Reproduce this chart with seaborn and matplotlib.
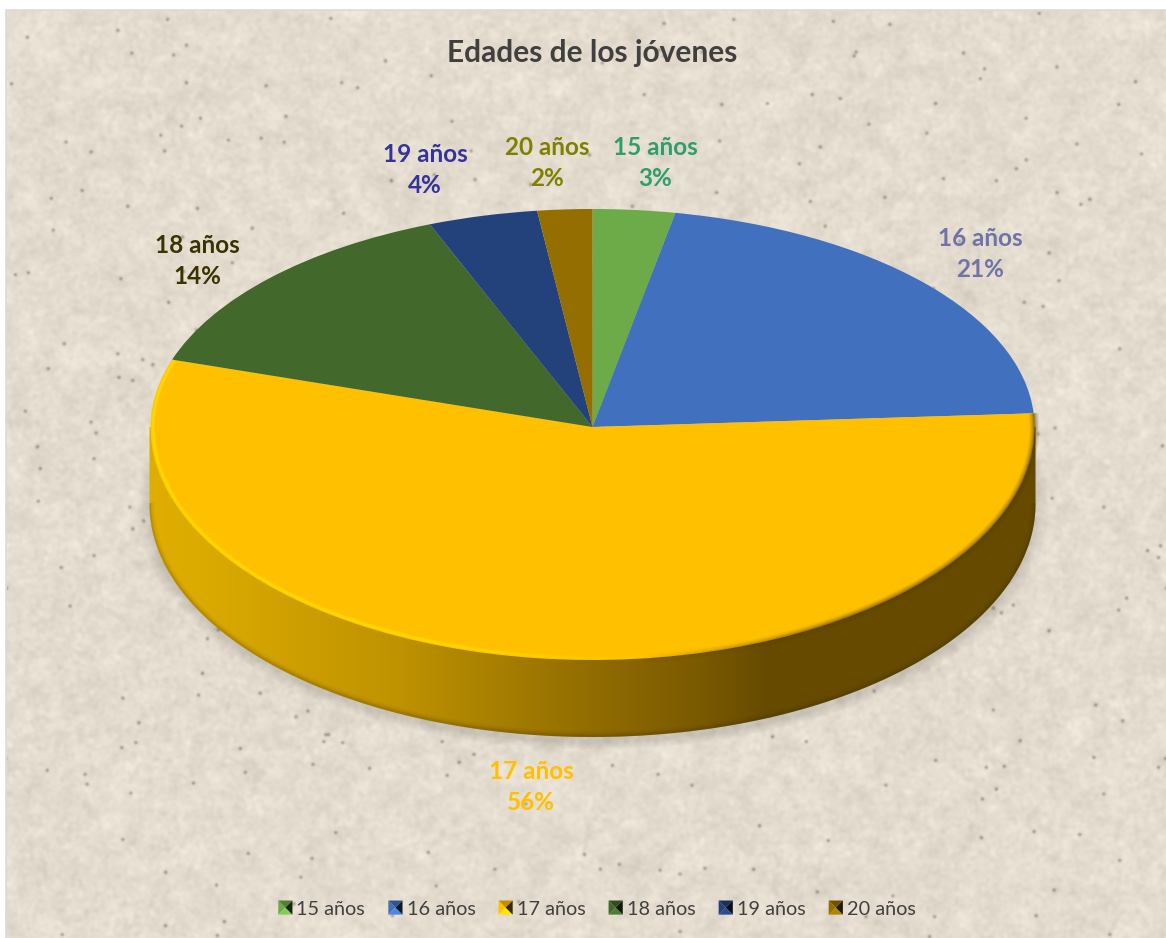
import numpy as np
import matplotlib
matplotlib.use("Agg")
import matplotlib.pyplot as plt
from matplotlib.collections import LineCollection
from matplotlib.legend_handler import HandlerBase
from matplotlib.patches import Patch, Polygon
import matplotlib.colors as mcolors
import seaborn as sns

# ---- chart data -------------------------------------------------------
ages = ["15 años", "16 años", "17 años", "18 años", "19 años", "20 años"]
shares = [3, 21, 56, 14, 4, 2]

slice_hex = ["#6CAB47", "#4170BF", "#FFC000", "#43682B", "#23417A", "#946F00"]
label_hex = ["#2F9E6C", "#6F73A8", "#FFC000", "#3A3300", "#33339A", "#808000"]
label_spots = [(655, 163), (980, 254), (531, 787), (197, 261), (425, 170), (547, 163)]

title_text = "Edades de los jóvenes"

# ---- geometry of the tilted disc, in figure pixels ----------------------
W, H = 1166, 938
CX, CY = 592.5, 427
RX, RY_UP, RY_DOWN = 442, 218, 233
DEPTH = 77

sns.set_theme(style="white")
plt.rcParams["font.family"] = ["Lato", "DejaVu Sans"]
palette = sns.color_palette(slice_hex)

fig = plt.figure(figsize=(W / 100, H / 100), dpi=100, facecolor="white")


def smooth(a, sigma):
    """Gaussian smoothing in the frequency domain."""
    fy = np.fft.fftfreq(a.shape[0])[:, None]
    fx = np.fft.rfftfreq(a.shape[1])[None, :]
    kernel = np.exp(-2 * (np.pi * sigma) ** 2 * (fx ** 2 + fy ** 2))
    return np.fft.irfft2(np.fft.rfft2(a) * kernel, s=a.shape)


# ---- paper backdrop -----------------------------------------------------
ax_bg = fig.add_axes([0, 0, 1, 1], zorder=0)
ax_bg.set_xlim(0, W)
ax_bg.set_ylim(H, 0)
ax_bg.set_axis_off()

rng = np.random.default_rng(11)
grain = smooth(rng.normal(size=(H, W)), 1.8)
grain /= grain.std()
mottling = smooth(rng.normal(size=(H, W)), 6)
mottling /= mottling.std()
flecks = smooth((rng.random((H, W)) > 0.9997).astype(float), 1.3)
flecks /= flecks.max()
shade = 3.0 * grain + 2.5 * mottling - 70 * flecks
paper = np.clip(np.array([228, 220, 207])[None, None, :] + shade[:, :, None], 0, 255) / 255
ax_bg.imshow(paper, extent=(6, W, H, 10), aspect="auto", interpolation="bilinear", zorder=0)
ax_bg.set_xlim(0, W)
ax_bg.set_ylim(H, 0)
ax_bg.plot([6, 6, W], [H, 10, 10], color="#DADADA", lw=1.2, zorder=1)

# soft contact shadow under the disc
yy, xx = np.mgrid[0:H, 0:W]
dist = np.hypot((xx - CX) / (RX + 6), (yy - (CY + DEPTH + 2)) / (RY_DOWN + 6))
shadow = np.clip((1.02 - dist) / 0.035, 0, 1) * 0.12
shadow_rgba = np.zeros((H, W, 4))
shadow_rgba[..., 3] = shadow
ax_bg.imshow(shadow_rgba, extent=(0, W, H, 0), aspect="auto", zorder=2)

# ---- side wall with its left-to-right lighting --------------------------
arc = np.linspace(-np.pi / 2, np.pi / 2, 500)
wall_x = CX + (RX + 1) * np.sin(arc)
wall_y = CY + DEPTH + RY_DOWN * np.cos(arc)
wall_poly = np.column_stack([wall_x, wall_y])
wall_poly = np.vstack([[CX - RX - 1, CY], wall_poly, [CX + RX + 1, CY]])

stops_x = [148, 200, 400, 600, 700, 770, 1040]
stops_rgb = np.array([[224, 174, 0], [220, 171, 0], [190, 146, 0], [143, 107, 0],
                      [122, 90, 0], [101, 74, 0], [101, 74, 0]], dtype=float)
columns = np.arange(W)
ramp = np.column_stack([np.interp(columns, stops_x, stops_rgb[:, i]) for i in range(3)]) / 255
wall_img = ax_bg.imshow(ramp[None, :, :], extent=(0, W, H, 0), aspect="auto", zorder=3)
wall_patch = Polygon(wall_poly, closed=True, transform=ax_bg.transData, fc="none", ec="none")
ax_bg.add_patch(wall_patch)
wall_img.set_clip_path(wall_patch)

# darkened lower lip of the wall
lip = np.column_stack([wall_x, wall_y - 1])
for lw, alpha in [(7, 0.05), (4, 0.08), (2, 0.12)]:
    line, = ax_bg.plot(lip[:, 0], lip[:, 1], color="#3A2A00", lw=lw, alpha=alpha, zorder=4,
                       solid_capstyle="butt")
    line.set_clip_path(wall_patch)


# ---- top face: a real pie on a squashed, tilted y scale ------------------
def squash(y):
    y = np.asarray(y, dtype=float)
    return np.where(y > 0, y * RY_UP / RX, y * RY_DOWN / RX)


def unsquash(v):
    v = np.asarray(v, dtype=float)
    return np.where(v > 0, v * RX / RY_UP, v * RX / RY_DOWN)


ax = fig.add_axes([0, 0, 1, 1], zorder=1)
ax.patch.set_alpha(0)
wedges, _ = ax.pie(shares, colors=palette, startangle=90, counterclock=False,
                   radius=RX, center=(CX, 0), wedgeprops=dict(linewidth=0))
ax.set_aspect("auto")
ax.set_yscale("function", functions=(squash, unsquash))
ax.set_xlim(0, W)
ax.set_ylim(float(unsquash(CY - H)), float(unsquash(CY)))
ax.set_axis_off()

# ---- rim lighting along the big slice -----------------------------------
cum = np.cumsum(shares) / np.sum(shares) * 2 * np.pi
rim_start, rim_end = cum[1], cum[2]


def rim_points(theta, inset):
    ry = np.where(np.cos(theta) > 0, RY_UP, RY_DOWN)
    return (CX + (RX - inset) * np.sin(theta), CY - (ry - inset) * np.cos(theta))


def rim_strokes(theta, inset, color, widths, alphas, weight):
    px, py = rim_points(theta, inset)
    pts = np.column_stack([px, py]).reshape(-1, 1, 2)
    segs = np.concatenate([pts[:-1], pts[1:]], axis=1)
    w = weight(0.5 * (px[:-1] + px[1:]))
    rgb = mcolors.to_rgb(color)
    for lw, alpha in zip(widths, alphas):
        rgba = np.column_stack([np.tile(rgb, (len(w), 1)), w * alpha])
        ax.add_collection(LineCollection(segs, colors=rgba, linewidths=lw, capstyle="butt",
                                         transform=ax_bg.transData, zorder=5), autolim=False)


theta = np.linspace(rim_start, rim_end, 600)
rim_strokes(theta, 2.5, "#FFE600", (3.6, 2.4, 1.2), (0.2, 0.3, 0.45),
            lambda x: np.clip((680 - x) / 260, 0, 1))
rim_strokes(theta, 0.0, "#5A4200", (7, 5, 3, 1.5), (0.1, 0.16, 0.22, 0.3),
            lambda x: np.clip((x - 640) / 200, 0, 1))

# ---- slice labels, title --------------------------------------------------
for age, share, color, (lx, ly) in zip(ages, shares, label_hex, label_spots):
    ax_bg.text(lx, ly, f"{age}\n{share}%", color=color, fontsize=17.5, fontweight="bold",
               ha="center", va="center", linespacing=1.47, zorder=6)

ax_bg.text(592.5, 53, title_text, color="#404040", fontsize=21.5, fontweight="bold",
           ha="center", va="center", zorder=6)


# ---- legend with small bevelled keys --------------------------------------
class BevelKey(HandlerBase):
    def create_artists(self, legend, orig, xd, yd, width, height, fontsize, trans):
        base = np.array(mcolors.to_rgb(orig.get_facecolor()))
        x0, y0 = -xd, -yd
        s = height
        x0 += (width - s) / 2
        a, b, c, d = (x0, y0), (x0 + s, y0), (x0 + s, y0 + s), (x0, y0 + s)
        m = (x0 + s / 2, y0 + s / 2)
        faces = [((a, d, m), base),
                 ((d, c, m), base * 0.75),
                 ((a, b, m), np.clip(base * 1.2, 0, 1)),
                 ((b, c, m), base * 0.22)]
        return [Polygon(np.array(v), closed=True, fc=col, ec="none", transform=trans)
                for v, col in faces]


handles = [Patch(facecolor=c, label=a) for a, c in zip(ages, palette)]
ax_bg.legend(handles=handles, ncols=6, loc="center", bbox_to_anchor=(597, 909),
             bbox_transform=ax_bg.transData, frameon=False,
             handler_map={Patch: BevelKey()},
             prop=dict(size=14.3), labelcolor="#404040",
             handlelength=0.72, handleheight=0.72, handletextpad=0.2, columnspacing=1.16,
             borderpad=0).set_zorder(6)

fig.savefig("out.png", dpi=100)
